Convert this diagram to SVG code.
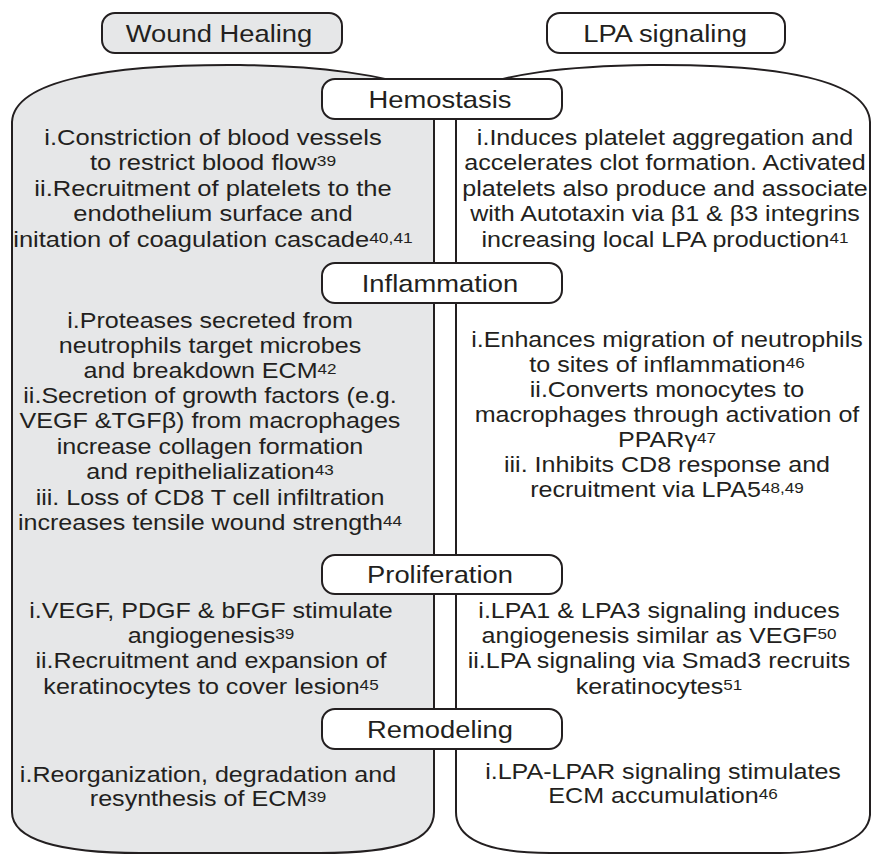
<svg xmlns="http://www.w3.org/2000/svg" width="873" height="854" viewBox="0 0 873 854">
<style>
.pan{stroke:#231f20;stroke-width:2;}
.gray{fill:#e6e7e8;}
.white{fill:#ffffff;}
.box{stroke:#231f20;stroke-width:2;}
text{font-family:"Liberation Sans",Arial,sans-serif;fill:#231f20;text-anchor:middle;}
.b{font-size:22px;}
.h{font-size:24px;}
.sup{font-size:15px;}
</style>
<rect width="873" height="854" fill="#ffffff"/>
<g id="wound-healing-panel">
<path class="pan gray" d="M12,122 C14,80 110,64 240,65 C320,66 380,74 434,92 L434,812 C434,840 400,853 320,853 L140,853 C60,853 12,840 12,812 Z"/>
</g>
<g id="lpa-signaling-panel">
<path class="pan white" d="M456,92 C510,74 560,66 650,65 C780,64 868,80 870,122 L870,815 C868,840 830,853 780,853 L550,853 C490,853 456,840 456,812 Z"/>
</g>
<g id="wound-healing">
<rect class="box gray" x="102" y="13" width="240" height="40" rx="13"/>
<g transform="translate(219,0) scale(1.14,1)"><text class="h" x="0" y="42">Wound Healing</text></g>
</g>
<g id="lpa-signaling">
<rect class="box white" x="547" y="13" width="238" height="40" rx="13"/>
<g transform="translate(665,0) scale(1.14,1)"><text class="h" x="0" y="42">LPA signaling</text></g>
</g>
<g id="hemostasis">
<rect class="box white" x="322" y="79" width="240" height="40" rx="13"/>
<g transform="translate(440,0) scale(1.14,1)"><text class="h" x="0" y="108">Hemostasis</text></g>
</g>
<g id="inflammation">
<rect class="box white" x="322" y="263" width="240" height="40" rx="13"/>
<g transform="translate(440,0) scale(1.14,1)"><text class="h" x="0" y="292">Inflammation</text></g>
</g>
<g id="proliferation">
<rect class="box white" x="322" y="555" width="240" height="39" rx="13"/>
<g transform="translate(440,0) scale(1.14,1)"><text class="h" x="0" y="583">Proliferation</text></g>
</g>
<g id="remodeling">
<rect class="box white" x="322" y="709" width="240" height="40" rx="13"/>
<g transform="translate(440,0) scale(1.14,1)"><text class="h" x="0" y="738">Remodeling</text></g>
</g>
<g id="wh-hemostasis" transform="translate(213,0) scale(1.16,1)">
<text class="b" x="0" y="145">i.Constriction of blood vessels</text>
<text class="b" x="0" y="170">to restrict blood flow<tspan class="sup" dy="-4">39</tspan></text>
<text class="b" x="0" y="196">ii.Recruitment of platelets to the</text>
<text class="b" x="0" y="221">endothelium surface and</text>
<text class="b" x="0" y="247">initation of coagulation cascade<tspan class="sup" dy="-4">40,41</tspan></text>
</g>
<g id="lpa-hemostasis" transform="translate(665,0) scale(1.14,1)">
<text class="b" x="0" y="145">i.Induces platelet aggregation and</text>
<text class="b" x="0" y="170">accelerates clot formation. Activated</text>
<text class="b" x="0" y="196">platelets also produce and associate</text>
<text class="b" x="0" y="221">with Autotaxin via β1 &amp; β3 integrins</text>
<text class="b" x="0" y="247">increasing local LPA production<tspan class="sup" dy="-4">41</tspan></text>
</g>
<g id="wh-inflammation" transform="translate(210,0) scale(1.14,1)">
<text class="b" x="0" y="328">i.Proteases secreted from</text>
<text class="b" x="0" y="353">neutrophils target microbes</text>
<text class="b" x="0" y="378">and breakdown ECM<tspan class="sup" dy="-4">42</tspan></text>
<text class="b" x="0" y="403">ii.Secretion of growth factors (e.g.</text>
<text class="b" x="0" y="428">VEGF &amp;TGFβ) from macrophages</text>
<text class="b" x="0" y="454">increase collagen formation</text>
<text class="b" x="0" y="479">and repithelialization<tspan class="sup" dy="-4">43</tspan></text>
<text class="b" x="0" y="505">iii. Loss of CD8 T cell infiltration</text>
<text class="b" x="0" y="530">increases tensile wound strength<tspan class="sup" dy="-4">44</tspan></text>
</g>
<g id="lpa-inflammation" transform="translate(667,0) scale(1.14,1)">
<text class="b" x="0" y="347">i.Enhances migration of neutrophils</text>
<text class="b" x="0" y="372">to sites of inflammation<tspan class="sup" dy="-4">46</tspan></text>
<text class="b" x="0" y="397">ii.Converts monocytes to</text>
<text class="b" x="0" y="422">macrophages through activation of</text>
<text class="b" x="0" y="447">PPARγ<tspan class="sup" dy="-4">47</tspan></text>
<text class="b" x="0" y="472">iii. Inhibits CD8 response and</text>
<text class="b" x="0" y="497">recruitment via LPA5<tspan class="sup" dy="-4">48,49</tspan></text>
</g>
<g id="wh-proliferation" transform="translate(211,0) scale(1.14,1)">
<text class="b" x="0" y="618">i.VEGF, PDGF &amp; bFGF stimulate</text>
<text class="b" x="0" y="643">angiogenesis<tspan class="sup" dy="-4">39</tspan></text>
<text class="b" x="0" y="668">ii.Recruitment and expansion of</text>
<text class="b" x="0" y="694">keratinocytes to cover lesion<tspan class="sup" dy="-4">45</tspan></text>
</g>
<g id="lpa-proliferation" transform="translate(659,0) scale(1.14,1)">
<text class="b" x="0" y="618">i.LPA1 &amp; LPA3 signaling induces</text>
<text class="b" x="0" y="643">angiogenesis similar as VEGF<tspan class="sup" dy="-4">50</tspan></text>
<text class="b" x="0" y="668">ii.LPA signaling via Smad3 recruits</text>
<text class="b" x="0" y="694">keratinocytes<tspan class="sup" dy="-4">51</tspan></text>
</g>
<g id="wh-remodeling" transform="translate(208,0) scale(1.14,1)">
<text class="b" x="0" y="782">i.Reorganization, degradation and</text>
<text class="b" x="0" y="806">resynthesis of ECM<tspan class="sup" dy="-4">39</tspan></text>
</g>
<g id="lpa-remodeling" transform="translate(663,0) scale(1.14,1)">
<text class="b" x="0" y="779">i.LPA-LPAR signaling stimulates</text>
<text class="b" x="0" y="803">ECM accumulation<tspan class="sup" dy="-4">46</tspan></text>
</g>
<g id="connectors"></g>
</svg>
